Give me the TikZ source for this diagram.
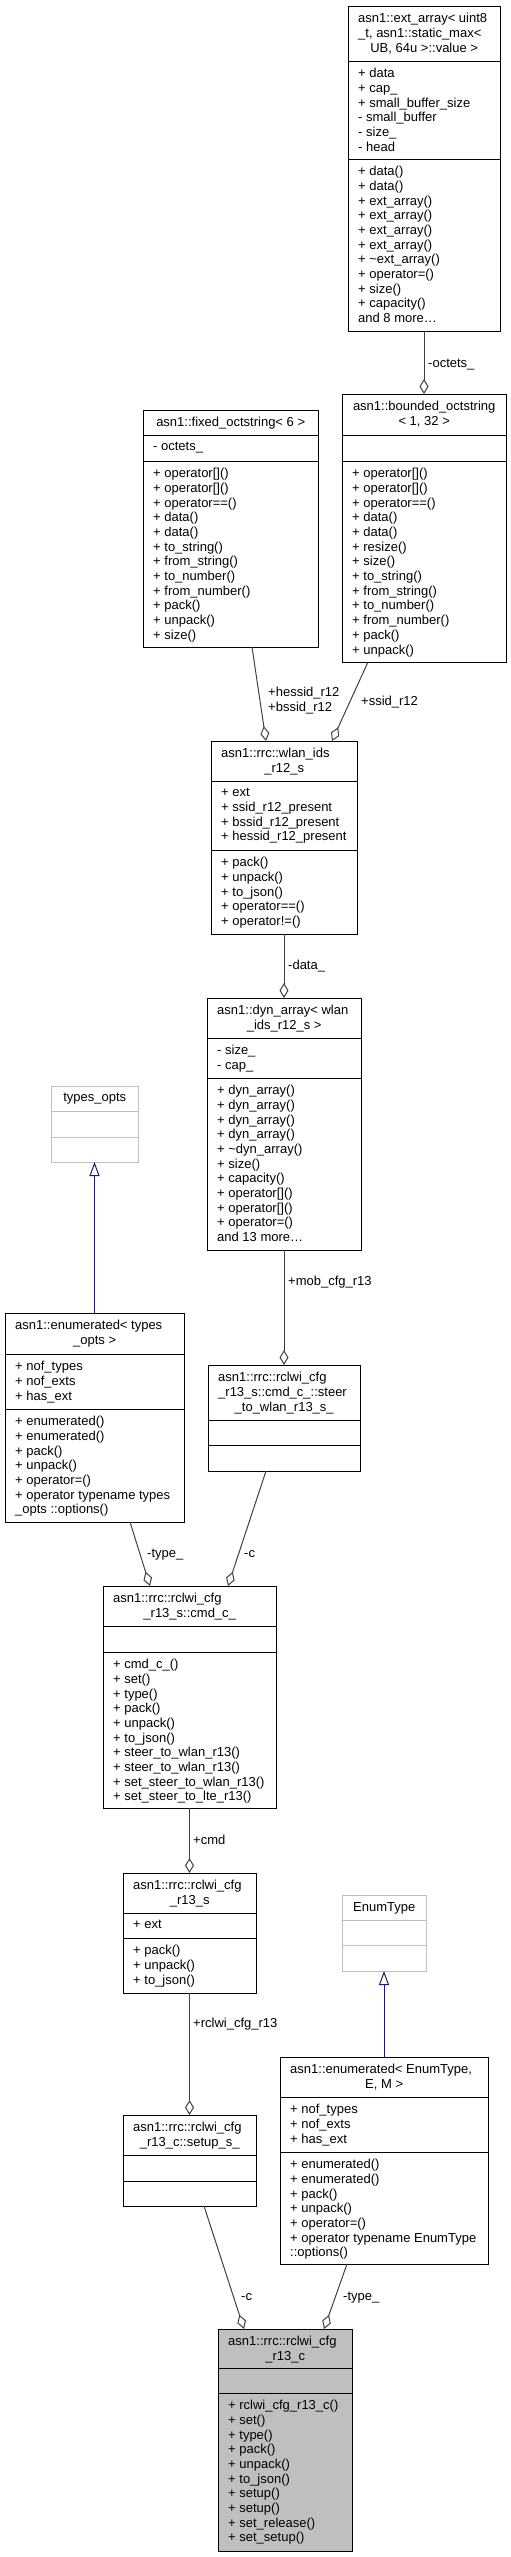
\documentclass[tikz,border=0pt]{standalone}
\usepackage{fontspec}
\setmainfont{Liberation Sans}
\usetikzlibrary{arrows.meta,positioning}
\definecolor{edgegray}{HTML}{404040}
\definecolor{undocgray}{HTML}{BFBFBF}
\definecolor{inhblue}{HTML}{191970}
\newcommand\dxfont{\fontsize{13}{14.7}\selectfont}

\begin{document}
\begin{tikzpicture}[x=1pt,y=-1pt,
    cls/.style={draw=black, line width=1pt, inner sep=0pt, outer sep=0pt, anchor=north west},
    undoc/.style={cls, draw=undocgray},
    divline/.style={draw=black, line width=1pt},
    undocline/.style={draw=undocgray, line width=1pt},
    membs/.style={font=\dxfont, inner sep=0pt, anchor=north west, align=left},
    elabel/.style={font=\dxfont, inner sep=0pt, anchor=base west},
    aggr/.style={draw=edgegray, line width=1pt, -{Diamond[open, length=15pt, width=9pt]}},
    inh/.style={draw=inhblue, line width=1pt, -{Triangle[open, length=14pt, width=10pt]}}]
  \useasboundingbox (0,0) rectangle (511,2557);

  % ext_array
  \node[cls, minimum width=152pt, minimum height=325pt] (ext) at (348,6) {};
  \draw[divline] (ext.west |- 0,61) -- (ext.east |- 0,61);
  \draw[divline] (ext.west |- 0,159) -- (ext.east |- 0,159);
  \node[membs] (extT) at (358,13) {asn1::ext\_array< uint8\\\_t, asn1::static\_max<\\\makebox[132pt]{UB, 64u >::value >}};
  \node[membs] (extA) at (358,68) {+ data\\+ cap\_\\+ small\_buffer\_size\\- small\_buffer\\- size\_\\- head};
  \node[membs] (extM) at (358,166) {+ data()\\+ data()\\+ ext\_array()\\+ ext\_array()\\+ ext\_array()\\+ ext\_array()\\+ \textasciitilde ext\_array()\\+ operator=()\\+ size()\\+ capacity()\\and 8 more…};

  % bounded_octstring
  \node[cls, minimum width=164pt, minimum height=268pt] (bounded) at (342,394) {};
  \draw[divline] (bounded.west |- 0,435) -- (bounded.east |- 0,435);
  \draw[divline] (bounded.west |- 0,461) -- (bounded.east |- 0,461);
  \node[membs] (boundedT) at (352,401) {\makebox[144pt]{asn1::bounded\_octstring}\\\makebox[144pt]{< 1, 32 >}};
  \node[membs] (boundedM) at (352,468) {+ operator[]()\\+ operator[]()\\+ operator==()\\+ data()\\+ data()\\+ resize()\\+ size()\\+ to\_string()\\+ from\_string()\\+ to\_number()\\+ from\_number()\\+ pack()\\+ unpack()};

  % fixed_octstring
  \node[cls, minimum width=175pt, minimum height=237pt] (fixed) at (143,410) {};
  \draw[divline] (fixed.west |- 0,435) -- (fixed.east |- 0,435);
  \draw[divline] (fixed.west |- 0,461) -- (fixed.east |- 0,461);
  \node[membs] (fixedT) at (153,417) {\makebox[155pt]{asn1::fixed\_octstring< 6 >}};
  \node[membs] (fixedA) at (153,442) {- octets\_};
  \node[membs] (fixedM) at (153,468) {+ operator[]()\\+ operator[]()\\+ operator==()\\+ data()\\+ data()\\+ to\_string()\\+ from\_string()\\+ to\_number()\\+ from\_number()\\+ pack()\\+ unpack()\\+ size()};

  % wlan_ids_r12_s
  \node[cls, minimum width=146pt, minimum height=193pt] (wlan) at (211,741) {};
  \draw[divline] (wlan.west |- 0,781) -- (wlan.east |- 0,781);
  \draw[divline] (wlan.west |- 0,850) -- (wlan.east |- 0,850);
  \node[membs] (wlanT) at (221,748) {asn1::rrc::wlan\_ids\\\makebox[126pt]{\_r12\_s}};
  \node[membs] (wlanA) at (221,788) {+ ext\\+ ssid\_r12\_present\\+ bssid\_r12\_present\\+ hessid\_r12\_present};
  \node[membs] (wlanM) at (221,857) {+ pack()\\+ unpack()\\+ to\_json()\\+ operator==()\\+ operator!=()};

  % dyn_array
  \node[cls, minimum width=154pt, minimum height=252pt] (dyn) at (207,998) {};
  \draw[divline] (dyn.west |- 0,1038) -- (dyn.east |- 0,1038);
  \draw[divline] (dyn.west |- 0,1078) -- (dyn.east |- 0,1078);
  \node[membs] (dynT) at (217,1005) {asn1::dyn\_array< wlan\\\makebox[134pt]{\_ids\_r12\_s >}};
  \node[membs] (dynA) at (217,1045) {- size\_\\- cap\_};
  \node[membs] (dynM) at (217,1085) {+ dyn\_array()\\+ dyn\_array()\\+ dyn\_array()\\+ dyn\_array()\\+ \textasciitilde dyn\_array()\\+ size()\\+ capacity()\\+ operator[]()\\+ operator[]()\\+ operator=()\\and 13 more…};

  % types_opts
  \node[undoc, minimum width=87pt, minimum height=76pt] (typesopts) at (51,1086) {};
  \draw[undocline] (typesopts.west |- 0,1111) -- (typesopts.east |- 0,1111);
  \draw[undocline] (typesopts.west |- 0,1137) -- (typesopts.east |- 0,1137);
  \node[membs] (typesoptsT) at (61,1093) {\makebox[67pt]{types\_opts}};

  % enumerated< types_opts >
  \node[cls, minimum width=179pt, minimum height=209pt] (enumT) at (5,1313) {};
  \draw[divline] (enumT.west |- 0,1354) -- (enumT.east |- 0,1354);
  \draw[divline] (enumT.west |- 0,1409) -- (enumT.east |- 0,1409);
  \node[membs] (enumTT) at (15,1320) {asn1::enumerated< types\\\makebox[159pt]{\_opts >}};
  \node[membs] (enumTA) at (15,1361) {+ nof\_types\\+ nof\_exts\\+ has\_ext};
  \node[membs] (enumTM) at (15,1416) {+ enumerated()\\+ enumerated()\\+ pack()\\+ unpack()\\+ operator=()\\+ operator typename types\\\_opts ::options()};

  % steer_to_wlan_r13_s_
  \node[cls, minimum width=152pt, minimum height=106pt] (steer) at (208,1365) {};
  \draw[divline] (steer.west |- 0,1420) -- (steer.east |- 0,1420);
  \draw[divline] (steer.west |- 0,1445) -- (steer.east |- 0,1445);
  \node[membs] (steerT) at (218,1372) {asn1::rrc::rclwi\_cfg\\\_r13\_s::cmd\_c\_::steer\\\makebox[132pt]{\_to\_wlan\_r13\_s\_}};

  % cmd_c_
  \node[cls, minimum width=173pt, minimum height=222pt] (cmd) at (103,1586) {};
  \draw[divline] (cmd.west |- 0,1626) -- (cmd.east |- 0,1626);
  \draw[divline] (cmd.west |- 0,1652) -- (cmd.east |- 0,1652);
  \node[membs] (cmdT) at (113,1593) {asn1::rrc::rclwi\_cfg\\\makebox[153pt]{\_r13\_s::cmd\_c\_}};
  \node[membs] (cmdM) at (113,1659) {+ cmd\_c\_()\\+ set()\\+ type()\\+ pack()\\+ unpack()\\+ to\_json()\\+ steer\_to\_wlan\_r13()\\+ steer\_to\_wlan\_r13()\\+ set\_steer\_to\_wlan\_r13()\\+ set\_steer\_to\_lte\_r13()};

  % rclwi_cfg_r13_s
  \node[cls, minimum width=133pt, minimum height=120pt] (cfgs) at (123,1873) {};
  \draw[divline] (cfgs.west |- 0,1913) -- (cfgs.east |- 0,1913);
  \draw[divline] (cfgs.west |- 0,1938) -- (cfgs.east |- 0,1938);
  \node[membs] (cfgsT) at (133,1880) {asn1::rrc::rclwi\_cfg\\\makebox[113pt]{\_r13\_s}};
  \node[membs] (cfgsA) at (133,1920) {+ ext};
  \node[membs] (cfgsM) at (133,1945) {+ pack()\\+ unpack()\\+ to\_json()};

  % setup_s_
  \node[cls, minimum width=133pt, minimum height=91pt] (setup) at (123,2115) {};
  \draw[divline] (setup.west |- 0,2155) -- (setup.east |- 0,2155);
  \draw[divline] (setup.west |- 0,2181) -- (setup.east |- 0,2181);
  \node[membs] (setupT) at (133,2122) {asn1::rrc::rclwi\_cfg\\\makebox[113pt]{\_r13\_c::setup\_s\_}};

  % EnumType
  \node[undoc, minimum width=84pt, minimum height=76pt] (enumtype) at (342,1895) {};
  \draw[undocline] (enumtype.west |- 0,1920) -- (enumtype.east |- 0,1920);
  \draw[undocline] (enumtype.west |- 0,1945) -- (enumtype.east |- 0,1945);
  \node[membs] (enumtypeT) at (352,1902) {\makebox[64pt]{EnumType}};

  % enumerated< EnumType, E, M >
  \node[cls, minimum width=208pt, minimum height=207pt] (enumE) at (280,2057) {};
  \draw[divline] (enumE.west |- 0,2097) -- (enumE.east |- 0,2097);
  \draw[divline] (enumE.west |- 0,2152) -- (enumE.east |- 0,2152);
  \node[membs] (enumET) at (290,2064) {asn1::enumerated< EnumType,\\\makebox[188pt]{E, M >}};
  \node[membs] (enumEA) at (290,2104) {+ nof\_types\\+ nof\_exts\\+ has\_ext};
  \node[membs] (enumEM) at (290,2159) {+ enumerated()\\+ enumerated()\\+ pack()\\+ unpack()\\+ operator=()\\+ operator typename EnumType\\::options()};

  % rclwi_cfg_r13_c
  \node[cls, fill=undocgray, minimum width=134pt, minimum height=222pt] (cfgc) at (218,2329) {};
  \draw[divline] (cfgc.west |- 0,2368) -- (cfgc.east |- 0,2368);
  \draw[divline] (cfgc.west |- 0,2393) -- (cfgc.east |- 0,2393);
  \node[membs] (cfgcT) at (228,2336) {asn1::rrc::rclwi\_cfg\\\makebox[114pt]{\_r13\_c}};
  \node[membs] (cfgcM) at (228,2400) {+ rclwi\_cfg\_r13\_c()\\+ set()\\+ type()\\+ pack()\\+ unpack()\\+ to\_json()\\+ setup()\\+ setup()\\+ set\_release()\\+ set\_setup()};

  % connectors
  \draw[aggr] (ext.south) -- (bounded.north);
  \draw[aggr] ([xshift=21.5pt]fixed.south) -- ([xshift=-18pt]wlan.north);
  \draw[aggr] ([xshift=-56pt]bounded.south) -- ([xshift=48pt]wlan.north);
  \draw[aggr] (wlan.south) -- (dyn.north);
  \draw[aggr] (dyn.south) -- (steer.north);
  \draw[inh] (enumT.north) -- (typesopts.south);
  \draw[aggr] ([xshift=-18pt]steer.south) -- ([xshift=38.5pt]cmd.north);
  \draw[aggr] ([xshift=35.5pt]enumT.south) -- ([xshift=-39.5pt]cmd.north);
  \draw[aggr] (cmd.south) -- (cfgs.north);
  \draw[aggr] (cfgs.south) -- (setup.north);
  \draw[inh] (enumE.north) -- (enumtype.south);
  \draw[aggr] ([xshift=14.5pt]setup.south) -- ([xshift=-41pt]cfgc.north);
  \draw[aggr] ([xshift=-37pt]enumE.south) -- ([xshift=39pt]cfgc.north);

  % connector labels
  \node[elabel] (lbOctets) at (428,367.5) {-octets\_};
  \node[membs] (lbHessid) at (268,687) {+hessid\_r12\\+bssid\_r12};
  \node[elabel] (lbSsid) at (361,705.5) {+ssid\_r12};
  \node[elabel] (lbData) at (288,969.5) {-data\_};
  \node[elabel] (lbMob) at (288,1285.5) {+mob\_cfg\_r13};
  \node[elabel] (lbTypeA) at (147,1557.5) {-type\_};
  \node[elabel] (lbCA) at (244,1557.5) {-c};
  \node[elabel] (lbCmd) at (193,1844.5) {+cmd};
  \node[elabel] (lbCfg) at (193,2027.5) {+rclwi\_cfg\_r13};
  \node[elabel] (lbCB) at (241,2300.5) {-c};
  \node[elabel] (lbTypeB) at (343,2300.5) {-type\_};
%  \draw[dashed, gray] (ext.north) -- (cfgc.south);
\end{tikzpicture}
\end{document}
